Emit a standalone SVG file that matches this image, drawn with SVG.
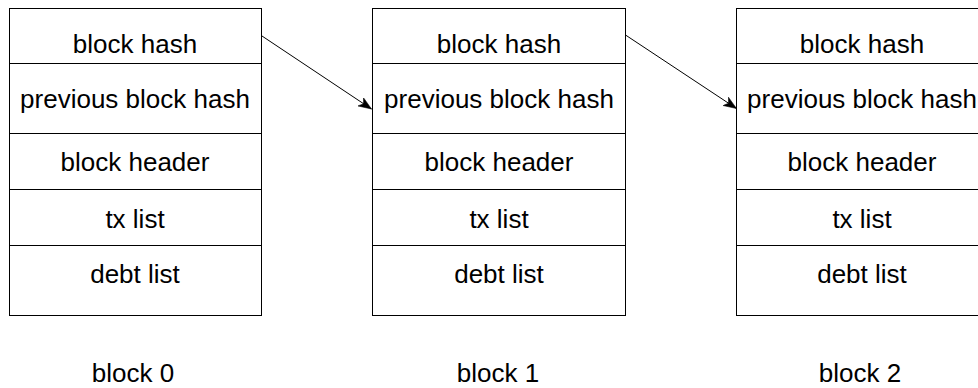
<svg xmlns="http://www.w3.org/2000/svg" width="978" height="388" viewBox="0 0 978 388">
<style>
.box{fill:#fff;stroke:#000;stroke-width:1}
.ln{stroke:#000;stroke-width:1}
text{font-family:"Liberation Sans",Arial,Helvetica,sans-serif;font-size:26px;fill:#000;text-anchor:middle}
.edge{stroke:#000;stroke-width:1;fill:none;marker-end:url(#arr)}
</style>
<defs>
<marker id="arr" markerUnits="userSpaceOnUse" markerWidth="14" markerHeight="12" viewBox="0 0 14 12" refX="13" refY="6" orient="auto">
<path d="M0,1 L13,6 L0,11 L3.5,6 z" fill="#000" stroke="#000" stroke-width="0.5"/>
</marker>
</defs>
<g id="block0">
<rect class="box" x="9.5" y="8.5" width="252" height="307"/>
<line class="ln" x1="9.5" y1="63.5" x2="261.5" y2="63.5"/>
<line class="ln" x1="9.5" y1="133.5" x2="261.5" y2="133.5"/>
<line class="ln" x1="9.5" y1="189.5" x2="261.5" y2="189.5"/>
<line class="ln" x1="9.5" y1="245.5" x2="261.5" y2="245.5"/>
<text x="135" y="53">block hash</text>
<text x="135" y="108">previous block hash</text>
<text x="135" y="171">block header</text>
<text x="135" y="228">tx list</text>
<text x="135" y="283">debt list</text>
</g>
<g id="block1">
<rect class="box" x="372.5" y="8.5" width="253" height="307"/>
<line class="ln" x1="372.5" y1="63.5" x2="625.5" y2="63.5"/>
<line class="ln" x1="372.5" y1="133.5" x2="625.5" y2="133.5"/>
<line class="ln" x1="372.5" y1="189.5" x2="625.5" y2="189.5"/>
<line class="ln" x1="372.5" y1="245.5" x2="625.5" y2="245.5"/>
<text x="499" y="53">block hash</text>
<text x="499" y="108">previous block hash</text>
<text x="499" y="171">block header</text>
<text x="499" y="228">tx list</text>
<text x="499" y="283">debt list</text>
</g>
<g id="block2">
<rect class="box" x="736.5" y="8.5" width="252" height="307"/>
<line class="ln" x1="736.5" y1="63.5" x2="988.5" y2="63.5"/>
<line class="ln" x1="736.5" y1="133.5" x2="988.5" y2="133.5"/>
<line class="ln" x1="736.5" y1="189.5" x2="988.5" y2="189.5"/>
<line class="ln" x1="736.5" y1="245.5" x2="988.5" y2="245.5"/>
<text x="862" y="53">block hash</text>
<text x="862" y="108">previous block hash</text>
<text x="862" y="171">block header</text>
<text x="862" y="228">tx list</text>
<text x="862" y="283">debt list</text>
</g>
<g id="label0"><text x="133" y="382">block 0</text></g>
<g id="label1"><text x="498" y="382">block 1</text></g>
<g id="label2"><text x="860" y="382">block 2</text></g>
<g id="connectors">
<path class="edge" d="M262,36 L371.5,109"/>
<path class="edge" d="M625.5,35 L736.5,108.5"/>
</g>
</svg>
